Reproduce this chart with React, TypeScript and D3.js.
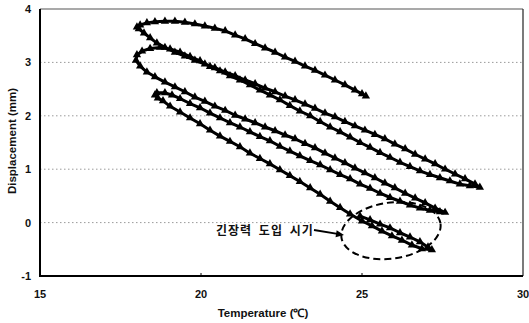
import React, { useEffect, useRef } from "react";
import * as d3 from "d3";

// ---- data (temperature °C, displacement mm), in time order, one array pair per branch ----
const startT = [24.94, 25.25, 25.56, 25.87, 26.18, 26.49, 26.80, 27.05, 27.17, 26.86, 26.55, 26.24, 25.93, 25.62, 25.31, 25.00];
const startD = [0.12, 0.05, -0.03, -0.10, -0.19, -0.27, -0.36, -0.46, -0.51, -0.49, -0.42, -0.33, -0.25, -0.16, -0.06, 0.03];

const branchAT = [24.63, 24.32, 24.01, 23.70, 23.39, 23.07, 22.76, 22.45, 22.14, 21.83, 21.52, 21.21, 20.90, 20.59, 20.28, 19.97, 19.66, 19.35, 19.04, 18.82, 18.66, 18.57];
const branchAD = [0.16, 0.28, 0.40, 0.53, 0.65, 0.77, 0.88, 0.99, 1.10, 1.20, 1.30, 1.42, 1.52, 1.62, 1.73, 1.85, 1.96, 2.07, 2.18, 2.28, 2.33, 2.39];

const branchBT = [18.63, 18.88, 19.10, 19.35, 19.66, 19.97, 20.28, 20.59, 20.90, 21.21, 21.52, 21.83, 22.14, 22.45, 22.76, 23.07, 23.39, 23.70, 24.01, 24.32, 24.63, 24.94, 25.25, 25.56, 25.87, 26.18, 26.49, 26.80, 27.11, 27.42, 27.58];
const branchBD = [2.43, 2.43, 2.39, 2.32, 2.23, 2.15, 2.05, 1.96, 1.87, 1.79, 1.70, 1.61, 1.53, 1.43, 1.34, 1.25, 1.16, 1.08, 0.99, 0.90, 0.82, 0.72, 0.64, 0.55, 0.47, 0.40, 0.33, 0.27, 0.23, 0.20, 0.19];

const branchCT = [27.27, 26.96, 26.65, 26.34, 26.02, 25.71, 25.40, 25.09, 24.78, 24.47, 24.16, 23.85, 23.54, 23.23, 22.92, 22.61, 22.30, 21.99, 21.68, 21.37, 21.06, 20.75, 20.43, 20.12, 19.81, 19.50, 19.19, 18.88, 18.57, 18.32, 18.11, 17.98];
const branchCD = [0.27, 0.37, 0.46, 0.55, 0.65, 0.74, 0.84, 0.93, 1.02, 1.12, 1.21, 1.30, 1.40, 1.48, 1.57, 1.64, 1.72, 1.79, 1.87, 1.94, 2.01, 2.10, 2.18, 2.27, 2.35, 2.45, 2.54, 2.63, 2.73, 2.82, 2.93, 3.04];

const branchDT = [18.01, 18.17, 18.42, 18.73, 19.04, 19.35, 19.66, 19.97, 20.28, 20.59, 20.90, 21.21, 21.52, 21.83, 22.14, 22.45, 22.76, 23.07, 23.39, 23.70, 24.01, 24.32, 24.63, 24.94, 25.25, 25.56, 25.87, 26.18, 26.49, 26.80, 27.11, 27.42, 27.73, 28.04, 28.35, 28.66];
const branchDD = [3.14, 3.21, 3.26, 3.28, 3.25, 3.19, 3.11, 3.03, 2.92, 2.84, 2.75, 2.67, 2.58, 2.48, 2.39, 2.30, 2.19, 2.09, 2.00, 1.89, 1.79, 1.70, 1.60, 1.50, 1.41, 1.31, 1.22, 1.13, 1.05, 0.97, 0.90, 0.84, 0.78, 0.72, 0.69, 0.66];

const branchET = [28.51, 28.20, 27.89, 27.58, 27.27, 26.96, 26.65, 26.34, 26.02, 25.71, 25.40, 25.09, 24.78, 24.47, 24.16, 23.85, 23.54, 23.23, 22.92, 22.61, 22.30, 21.99, 21.68, 21.37, 21.06, 20.75, 20.43, 20.12, 19.81, 19.50, 19.19, 18.88, 18.63, 18.42, 18.23, 18.07, 18.01];
const branchED = [0.72, 0.82, 0.91, 1.00, 1.10, 1.19, 1.28, 1.38, 1.47, 1.57, 1.65, 1.73, 1.81, 1.89, 1.98, 2.05, 2.14, 2.22, 2.30, 2.37, 2.45, 2.52, 2.60, 2.67, 2.75, 2.82, 2.90, 2.97, 3.04, 3.12, 3.19, 3.28, 3.36, 3.46, 3.55, 3.63, 3.66];

const branchFT = [18.11, 18.32, 18.57, 18.88, 19.19, 19.50, 19.81, 20.12, 20.43, 20.75, 21.06, 21.37, 21.68, 21.99, 22.30, 22.61, 22.92, 23.23, 23.54, 23.85, 24.16, 24.47, 24.78, 25.00, 25.12];
const branchFD = [3.70, 3.74, 3.76, 3.77, 3.77, 3.75, 3.72, 3.68, 3.64, 3.59, 3.51, 3.44, 3.35, 3.27, 3.19, 3.10, 3.02, 2.93, 2.85, 2.76, 2.67, 2.58, 2.48, 2.41, 2.37];

const xTicks = [15, 20, 25, 30];
const yTicks = [-1, 0, 1, 2, 3, 4];
const gridValues = [0, 1, 2, 3];
const xTitle = "Temperature (℃)";
const yTitle = "Displacement (mm)";
const noteText = "긴장력 도입 시기";

const W = 529;
const H = 323;

export default function App() {
  const ref = useRef<SVGSVGElement>(null);

  useEffect(() => {
    const svg = d3.select(ref.current);
    svg.selectAll("*").remove();

    const x = d3.scaleLinear().domain([15, 30]).range([40, 523]);
    const y = d3.scaleLinear().domain([-1, 4]).range([276, 9]);

    const pairs: [number, number][] = [];
    const add = (ts: number[], ds: number[]) => ts.forEach((t, i) => pairs.push([t, ds[i]]));
    add(startT, startD);
    add(branchAT, branchAD);
    add(branchBT, branchBD);
    add(branchCT, branchCD);
    add(branchDT, branchDD);
    add(branchET, branchED);
    add(branchFT, branchFD);

    const font = "'Liberation Sans', Arial, sans-serif";

    // gridlines
    svg.append("g")
      .selectAll("line")
      .data(gridValues)
      .join("line")
      .attr("x1", x(15))
      .attr("x2", x(30))
      .attr("y1", (d) => y(d))
      .attr("y2", (d) => y(d))
      .attr("stroke", "#9a9a9a")
      .attr("stroke-width", 1)
      .attr("stroke-dasharray", "1.5,2.5");

    // frame top/right
    svg.append("line").attr("x1", x(15)).attr("x2", x(30)).attr("y1", y(4)).attr("y2", y(4))
      .attr("stroke", "#555").attr("stroke-width", 1.2);
    svg.append("line").attr("x1", x(30)).attr("x2", x(30)).attr("y1", y(4)).attr("y2", y(-1))
      .attr("stroke", "#333").attr("stroke-width", 1.3);

    // axes
    svg.append("line").attr("x1", x(15)).attr("x2", x(15)).attr("y1", y(4)).attr("y2", y(-1))
      .attr("stroke", "#000").attr("stroke-width", 2);
    svg.append("line").attr("x1", x(15) - 1).attr("x2", x(30)).attr("y1", y(-1)).attr("y2", y(-1))
      .attr("stroke", "#000").attr("stroke-width", 2);

    // small inward ticks
    svg.append("g").selectAll("line").data(xTicks.slice(1, 3)).join("line")
      .attr("x1", (d) => x(d)).attr("x2", (d) => x(d))
      .attr("y1", y(-1)).attr("y2", y(-1) - 3)
      .attr("stroke", "#000").attr("stroke-width", 1);

    // tick labels
    svg.append("g").selectAll("text").data(yTicks).join("text")
      .attr("x", 31)
      .attr("y", (d) => y(d) + 4)
      .attr("text-anchor", "end")
      .attr("font-family", font)
      .attr("font-size", 11)
      .attr("font-weight", "bold")
      .attr("fill", "#111")
      .text((d) => String(d));

    svg.append("g").selectAll("text").data(xTicks).join("text")
      .attr("x", (d) => x(d))
      .attr("y", 298)
      .attr("text-anchor", "middle")
      .attr("font-family", font)
      .attr("font-size", 11)
      .attr("font-weight", "bold")
      .attr("fill", "#111")
      .text((d) => String(d));

    // axis titles
    svg.append("text")
      .attr("x", 263)
      .attr("y", 317)
      .attr("text-anchor", "middle")
      .attr("font-family", font)
      .attr("font-size", 11.5)
      .attr("font-weight", "bold")
      .attr("fill", "#111")
      .text(xTitle);

    svg.append("text")
      .attr("transform", "translate(16,141) rotate(-90)")
      .attr("text-anchor", "middle")
      .attr("font-family", font)
      .attr("font-size", 11.5)
      .attr("font-weight", "bold")
      .attr("fill", "#111")
      .text(yTitle);

    // series line
    const line = d3.line<[number, number]>()
      .x((d) => x(d[0]))
      .y((d) => y(d[1]));
    svg.append("path")
      .datum(pairs)
      .attr("d", line)
      .attr("fill", "none")
      .attr("stroke", "#000")
      .attr("stroke-width", 3)
      .attr("stroke-linejoin", "round");

    const tri = d3.symbol().type(d3.symbolTriangle).size(30);
    svg.append("g").selectAll("path").data(pairs).join("path")
      .attr("d", tri)
      .attr("transform", (d) => `translate(${x(d[0])},${y(d[1])})`)
      .attr("fill", "#000");

    // annotation ellipse
    const ecx = x(25.9), ecy = y(-0.15);
    svg.append("ellipse")
      .attr("cx", ecx)
      .attr("cy", ecy)
      .attr("rx", 50)
      .attr("ry", 28)
      .attr("transform", `rotate(-8 ${ecx} ${ecy})`)
      .attr("fill", "none")
      .attr("stroke", "#000")
      .attr("stroke-width", 2)
      .attr("stroke-dasharray", "7,4");

    // annotation text + arrow
    svg.append("text")
      .attr("x", 216)
      .attr("y", 235)
      .attr("font-family", "'Noto Sans CJK KR', sans-serif")
      .attr("font-size", 12)
      .attr("font-weight", "bold")
      .attr("letter-spacing", 1)
      .attr("word-spacing", 3)
      .attr("fill", "#111")
      .text(noteText);

    const ax0 = 314, ay0 = 230, ax1 = 344, ay1 = 235;
    svg.append("line")
      .attr("x1", ax0).attr("y1", ay0).attr("x2", ax1 - 5).attr("y2", ay1 - 0.8)
      .attr("stroke", "#000").attr("stroke-width", 1.8);
    const ang = Math.atan2(ay1 - ay0, ax1 - ax0);
    const hl = 8, hw = 3.5;
    const bx = ax1 - hl * Math.cos(ang), by = ay1 - hl * Math.sin(ang);
    svg.append("path")
      .attr("d", `M${ax1},${ay1} L${bx - hw * Math.sin(ang)},${by + hw * Math.cos(ang)} L${bx + hw * Math.sin(ang)},${by - hw * Math.cos(ang)} Z`)
      .attr("fill", "#000");
  }, []);

  return (
    <svg
      ref={ref}
      width={W}
      height={H}
      style={{ position: "absolute", left: 0, top: 0, background: "#fff" }}
    />
  );
}
